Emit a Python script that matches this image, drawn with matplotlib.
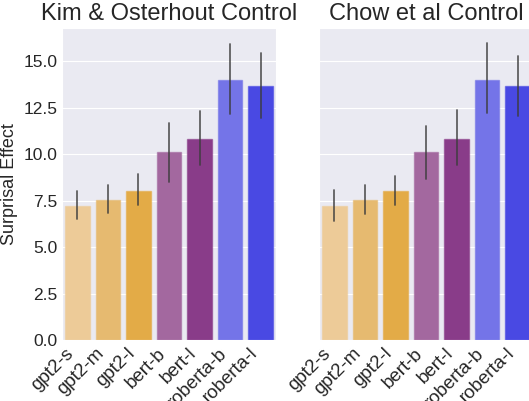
import matplotlib
matplotlib.use("Agg")
import matplotlib.pyplot as plt
import numpy as np
import seaborn as sns

models = ["gpt2-s", "gpt2-m", "gpt2-l", "bert-b", "bert-l", "roberta-b", "roberta-l"]
colours = ["#EDCB98", "#E6BA70", "#E3AB47", "#A3689F", "#893C89", "#7474E8", "#4949E3"]

# Kim & Osterhout
kim_mean = [7.23, 7.54, 8.02, 10.12, 10.82, 13.99, 13.69]
kim_lo = [6.50, 6.82, 7.25, 8.52, 9.44, 12.18, 11.93]
kim_hi = [8.04, 8.34, 8.92, 11.66, 12.32, 15.93, 15.43]

# Chow et al
chow_mean = [7.23, 7.53, 8.02, 10.12, 10.82, 13.99, 13.69]
chow_lo = [6.42, 6.78, 7.27, 8.67, 9.42, 12.22, 12.07]
chow_hi = [8.07, 8.34, 8.83, 11.52, 12.36, 16.00, 15.29]

sns.set_style("darkgrid")
plt.rcParams["font.family"] = ["Liberation Sans", "DejaVu Sans"]

fig = plt.figure(figsize=(5.29, 4.01), dpi=100)
ax1 = fig.add_axes([62 / 529, 61 / 401, 214 / 529, 312 / 401])
ax2 = fig.add_axes([319 / 529, 61 / 401, 214 / 529, 312 / 401], sharey=ax1)


def draw(ax, mean, lo, hi, title):
    x = np.arange(len(models))
    ax.bar(x, mean, width=0.8, color=colours, edgecolor=[c + "99" for c in colours],
           linewidth=1.0, zorder=2)
    for xi, l, h in zip(x, lo, hi):
        ax.plot([xi, xi], [l, h], color="#3c3c3c", lw=1.3, alpha=0.8, zorder=3)
    ax.set_xlim(-0.5, len(models) - 0.5)
    ax.set_xticks(x)
    ax.set_xticklabels(models, rotation=45, ha="right", fontsize=13.5)
    ax.set_title(title, fontsize=17)
    ax.grid(axis="x", visible=False)
    ax.tick_params(axis="both", length=0, pad=3.5)
    ax.tick_params(axis="y", labelsize=12.5)


draw(ax1, kim_mean, kim_lo, kim_hi, "Kim & Osterhout Control")
draw(ax2, chow_mean, chow_lo, chow_hi, "Chow et al Control")

ax1.set_ylim(0, 16.8)
ax1.set_yticks([0, 2.5, 5, 7.5, 10, 12.5, 15])
ax1.set_yticklabels(["0.0", "2.5", "5.0", "7.5", "10.0", "12.5", "15.0"])
ax1.set_ylabel("Surprisal Effect", fontsize=13, labelpad=4)
plt.setp(ax2.get_yticklabels(), visible=False)

fig.savefig("out.png", dpi=100)
